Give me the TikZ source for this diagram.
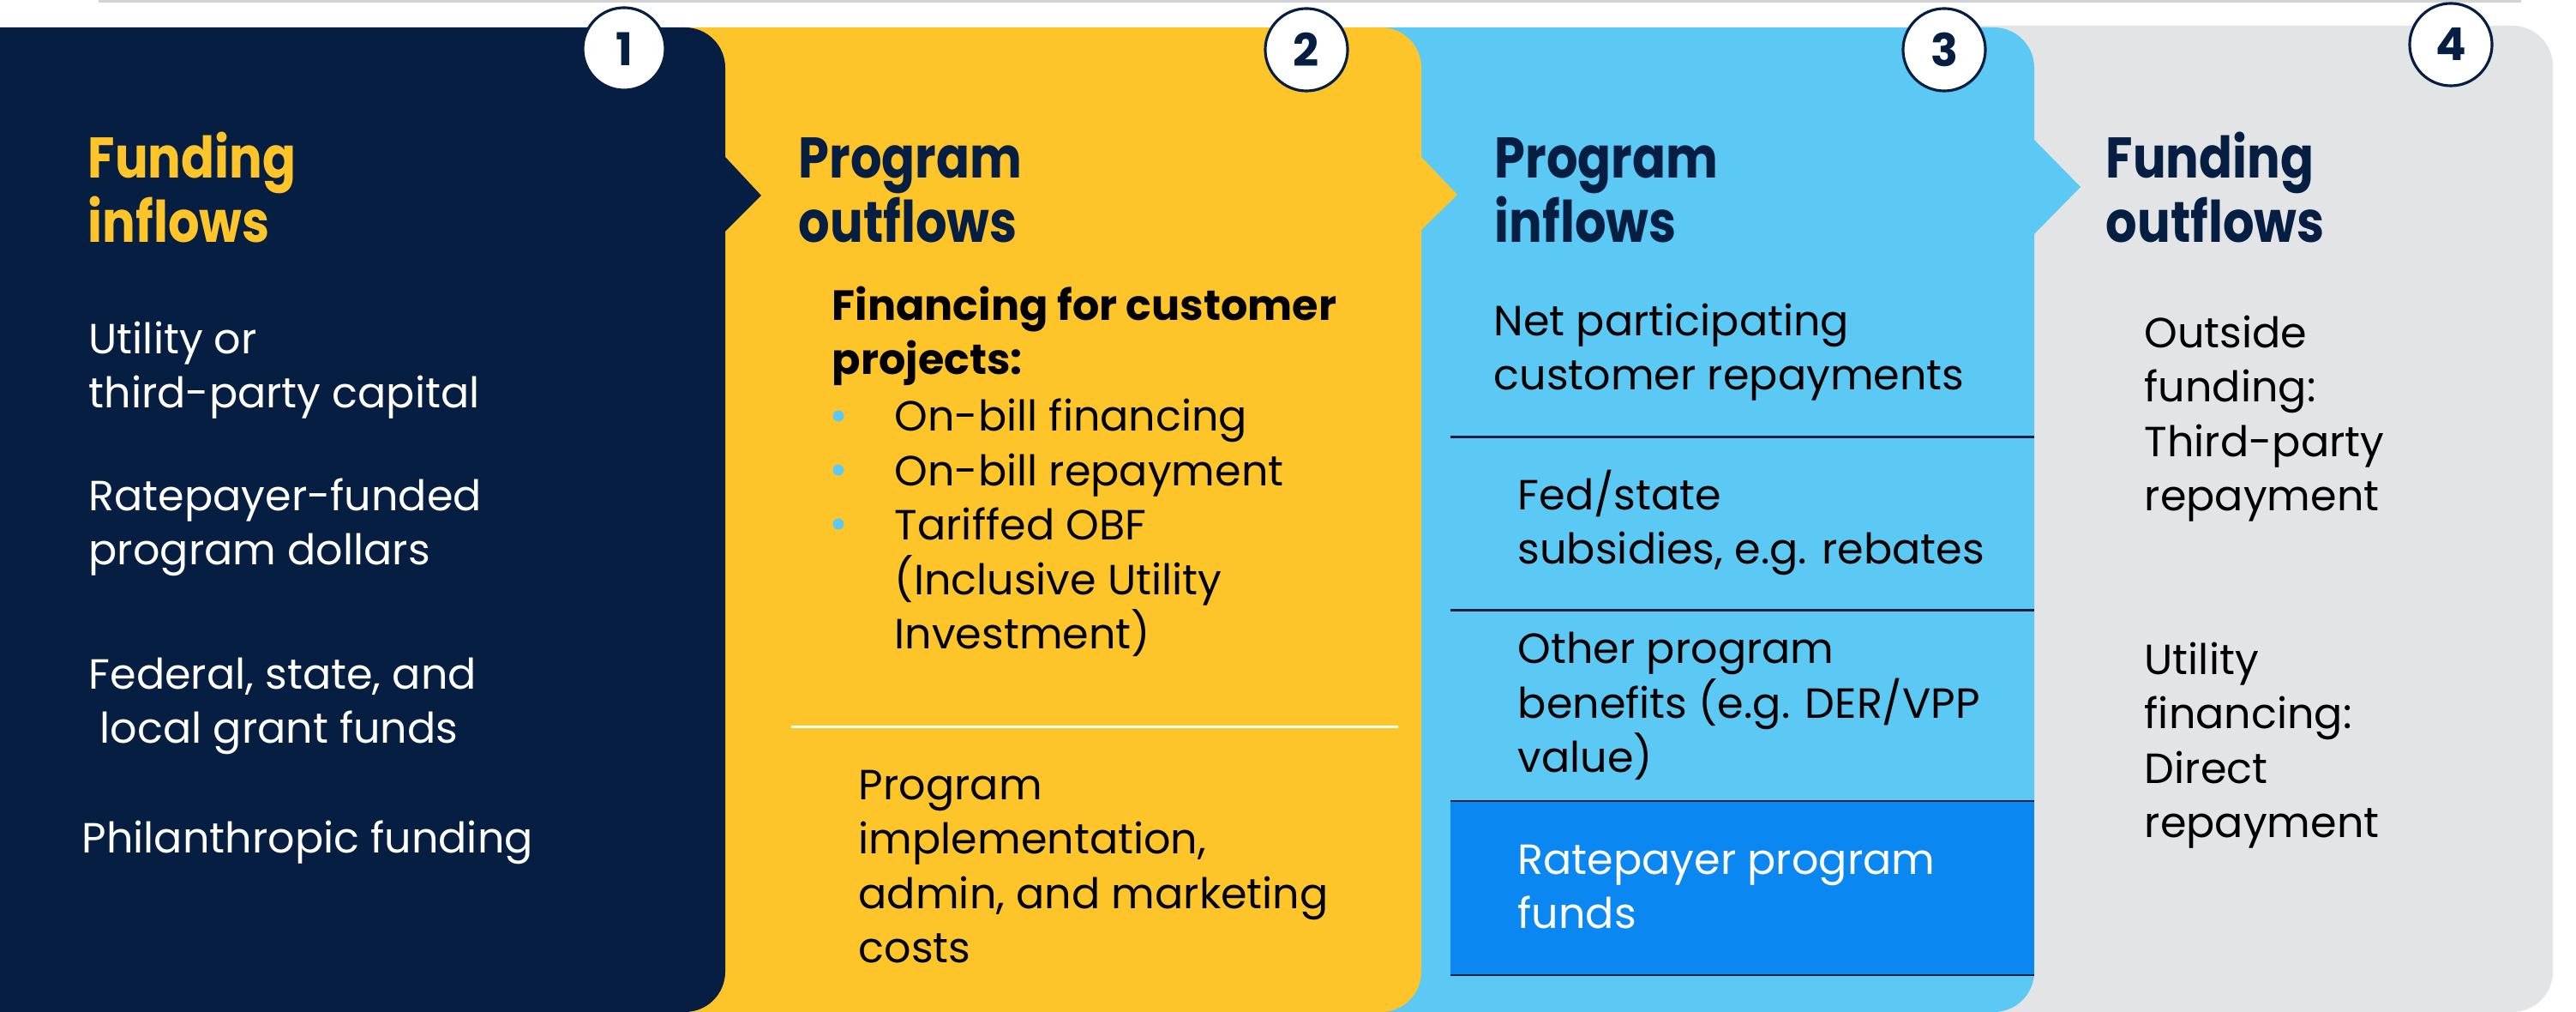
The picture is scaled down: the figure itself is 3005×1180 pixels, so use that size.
\documentclass[tikz,border=0pt]{standalone}
\usepackage{fontspec}
\setmainfont{Poppins}
\newfontfamily\narrowfont[FakeStretch=0.86]{Poppins}

\definecolor{navy}{HTML}{051E42}
\definecolor{sun}{HTML}{FEC52A}
\definecolor{sky}{HTML}{5CC9F5}
\definecolor{deepsky}{HTML}{0A87F0}
\definecolor{mist}{HTML}{E3E4E6}
\definecolor{hairline}{HTML}{D2D3D5}

% base west of a multi-line node = baseline of its last line
\tikzset{
  head/.style={anchor=base west, inner sep=0pt, align=left,
    font=\narrowfont\fontsize{19}{21.6}\selectfont\bfseries},
  body/.style={anchor=base west, inner sep=0pt, align=left,
    font=\fontsize{14}{18.1}\selectfont},
  numdisc/.style={circle, draw=navy, line width=0.9pt, fill=white,
    minimum size=0.96cm, inner sep=0pt, text=navy,
    font=\fontsize{15}{15}\selectfont\bfseries},
  bulletdot/.style={circle, fill=sky, minimum size=0.13cm, inner sep=0pt},
  divider/.style={line width=0.85pt}
}

\begin{document}
\begin{tikzpicture}[x=0.01cm, y=-0.01cm]
  \useasboundingbox (0,0) rectangle (3005,1180);
  \draw[hairline, line width=0.85pt] (115,1.5) -- (2941,1.5);

  % panels, right to left so each arrow sits on top
  \fill[mist] (2300,30) -- (2931,30) arc[start angle=-90, end angle=0, radius=47]
    -- (2978,1133) arc[start angle=0, end angle=90, radius=47] -- (2300,1180) -- cycle;
  \fill[sky] (1600,32) -- (2326,32) arc[start angle=-90, end angle=0, radius=47]
    -- (2373,163) -- (2427,218) -- (2373,273)
    -- (2373,1133) arc[start angle=0, end angle=90, radius=47] -- (1600,1180) -- cycle;
  \fill[sun] (800,32) -- (1611,32) arc[start angle=-90, end angle=0, radius=47]
    -- (1658,183) -- (1700,227) -- (1658,268)
    -- (1658,1133) arc[start angle=0, end angle=90, radius=47] -- (800,1180) -- cycle;
  \fill[navy] (0,32) -- (799,32) arc[start angle=-90, end angle=0, radius=47]
    -- (846,183) -- (888,228) -- (846,270)
    -- (846,1133) arc[start angle=0, end angle=90, radius=47] -- (0,1180) -- cycle;

  % separators
  \draw[white, divider] (923,848) -- (1631,848);
  \fill[deepsky] (1692,934) rectangle (2373,1137);
  \foreach \y in {510,712,934,1137}
    \draw[navy, divider] (1692,\y) -- (2373,\y);

  % step numbers
  \node[numdisc] (one) at (728,57) {1};
  \node[numdisc] (two) at (1524,58) {2};
  \node[numdisc] (three) at (2268,58) {3};
  \node[numdisc] (four) at (2859,52) {4};

  % 1
  \node[head, text=sun] (fundin) at (102,283) {Funding\\inflows};
  \node[body, text=white] (capital) at (103,476) {Utility or\\third-party capital};
  \node[body, text=white] (ratepay) at (103,659) {Ratepayer-funded\\program dollars};
  \node[body, text=white] (grants) at (103,867)
    {Federal, state, and\\\hspace*{0.13cm}local grant funds};
  \node[body, text=white] (philan) at (95,995) {Philanthropic funding};

  % 2
  \node[head, text=navy] (progout) at (931,283) {Program\\outflows};
  \node[body, font=\fontsize{14}{18.1}\selectfont\bfseries]
    (finance) at (970,437) {Financing for customer\\projects:};
  \foreach \y in {502,565,628}
    \node[bulletdot] (dot\y) at (978,\y-17) {};
  \node[body] (options) at (1043,757)
    {On-bill financing\\On-bill repayment\\Tariffed OBF\\(Inclusive Utility\\Investment)};
  \node[body] (admin) at (1001,1123)
    {Program\\implementation,\\admin, and marketing\\costs};

  % 3
  \node[head, text=navy] (progin) at (1743,283) {Program\\inflows};
  \node[body] (netrepay) at (1742,455) {Net participating\\customer repayments};
  \node[body] (subsidy) at (1770,658) {Fed/state\\subsidies, e.g. rebates};
  \node[body] (benefit) at (1770,901) {Other program\\benefits (e.g. DER/VPP\\value)};
  \node[body, text=white] (rpfunds) at (1770,1083) {Ratepayer program\\funds};

  % 4
  \node[head, text=navy] (fundout) at (2456,283) {Funding\\outflows};
  \node[body] (outside) at (2501,596) {Outside\\funding:\\Third-party\\repayment};
  \node[body] (direct) at (2501,977) {Utility\\financing:\\Direct\\repayment};
\end{tikzpicture}
\end{document}
